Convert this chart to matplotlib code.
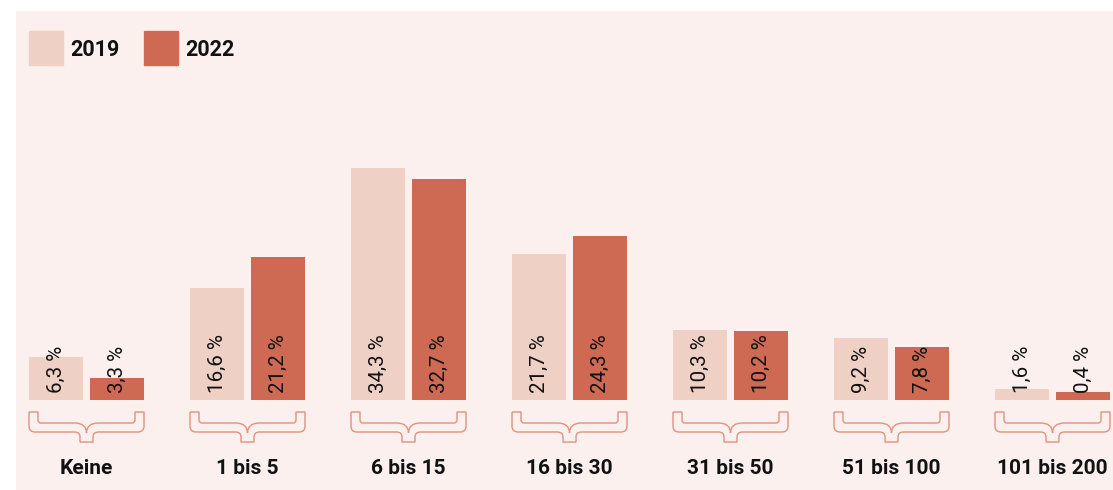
import numpy as np
import matplotlib.pyplot as plt
from matplotlib.path import Path
from matplotlib.patches import PathPatch, Rectangle

plt.rcParams['font.family'] = ['Roboto', 'DejaVu Sans']

categories = ["Keine", "1 bis 5", "6 bis 15", "16 bis 30", "31 bis 50", "51 bis 100", "101 bis 200"]
years = ["2019", "2022"]
values_2019 = [6.3, 16.6, 34.3, 21.7, 10.3, 9.2, 1.6]
values_2022 = [3.3, 21.2, 32.7, 24.3, 10.2, 7.8, 0.4]

col_2019 = "#EFD0C5"
col_2022 = "#CE6A53"
bg = "#FBF0EE"
brace_col = "#E2917F"

W, H = 1113, 490
fig = plt.figure(figsize=(W/100, H/100), dpi=100)
ax = fig.add_axes([16/W, 0, 1097/W, 479/H])
ax.set_facecolor(bg)

# 1 unit in x = 161 px group pitch, 1 % = 6.75 px
px_x = 1/161
px_y = 1/6.75

x = np.arange(len(categories))
w = 54*px_x
off = 30.5*px_x
min_h = 8*px_y  # the original keeps tiny bars visible

ax.bar(x - off, np.maximum(values_2019, min_h), width=w, color=col_2019)
ax.bar(x + off, np.maximum(values_2022, min_h), width=w, color=col_2022)

# value labels, rotated, sitting at the base of each bar
for xs, vals in [(x - off, values_2019), (x + off, values_2022)]:
    for xi, v in zip(xs, vals):
        ax.text(xi, 1.0, f"{v:.1f} %".replace(".", ","), rotation=90,
                ha="center", va="bottom", fontsize=14.8, color="#111111")

# outlined curly brace shape, in pixel offsets (dx right, dy down from the bar base)
M, L, C = Path.MOVETO, Path.LINETO, Path.CURVE3
brace = [
    ((-57.5, 12), M), ((-48.5, 12), L), ((-48.5, 20), L), ((-48.5, 23), C), ((-45.5, 23), C),
    ((-12, 23), L), ((0, 23), C), ((0, 33), C), ((0, 23), C), ((12, 23), C),
    ((45.5, 23), L), ((48.5, 23), C), ((48.5, 20), C), ((48.5, 12), L), ((57.5, 12), L),
    ((57.5, 26), L), ((57.5, 32), C), ((51.5, 32), C), ((12, 32), L), ((6.5, 32), C), ((6.5, 37), C),
    ((6.5, 42), L), ((-6.5, 42), L), ((-6.5, 37), L), ((-6.5, 32), C), ((-12, 32), C),
    ((-51.5, 32), L), ((-57.5, 32), C), ((-57.5, 26), C), ((-57.5, 12), L),
]
for xi in x:
    verts = [(xi + dx*px_x, -dy*px_y) for (dx, dy), _ in brace]
    codes = [c for _, c in brace]
    ax.add_patch(PathPatch(Path(verts, codes), facecolor=bg, edgecolor=brace_col, lw=1.0))

for xi, cat in zip(x, categories):
    ax.text(xi, -10.1, cat, ha="center", va="center", fontsize=15, fontweight="bold", color="#111111")

ax.set_xlim((16 - 86.5)*px_x, (1113 - 86.5)*px_x)
ax.set_ylim(-90*px_y, 389*px_y)
for s in ax.spines.values():
    s.set_visible(False)
ax.set_xticks([])
ax.set_yticks([])

# legend: squares and bold year labels
for lx, year, c in [(29, years[0], col_2019), (144, years[1], col_2022)]:
    fig.add_artist(Rectangle((lx/W, 1 - 65/H), 34/W, 34/H, color=c, transform=fig.transFigure))
    fig.text((lx + 41)/W, 1 - 56.5/H, year, ha="left", va="baseline",
             fontsize=15.5, fontweight="bold", color="#111111")

fig.savefig("out.png", dpi=100, facecolor="white")
